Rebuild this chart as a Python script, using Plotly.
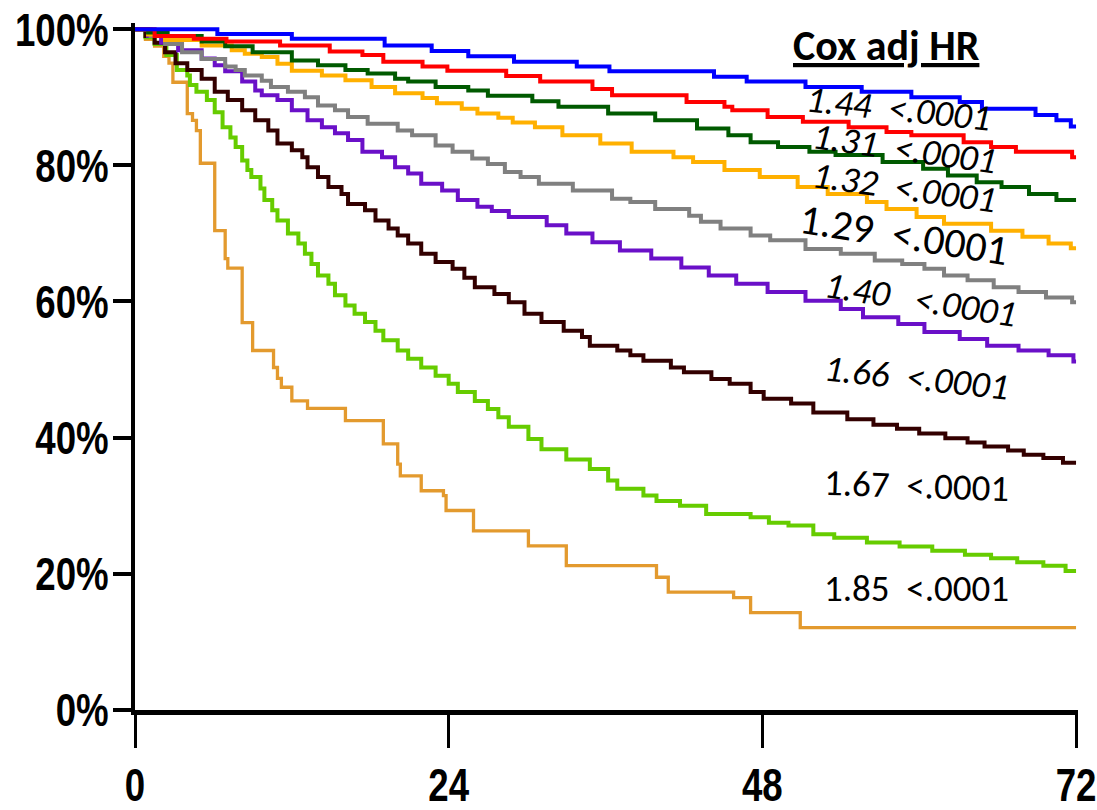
import plotly.graph_objects as go

# ---- data (months, survival %) ----
x_ticks = [0, 24, 48, 72]
x_tick_labels = ["0", "24", "48", "72"]
y_ticks = [0, 20, 40, 60, 80, 100]
y_tick_labels = ["0%", "20%", "40%", "60%", "80%", "100%"]

t_blue = [0, 6.3, 12.0, 19.1, 22.7, 25.5, 29.0, 33.8, 36.3, 44.3, 46.8, 51.3, 55.6, 59.4, 63.1, 64.8, 68.9, 70.5, 71.6, 72]
s_blue = [100, 99.3, 98.6, 97.6, 96.8, 96.0, 95.2, 94.5, 93.8, 93.0, 92.3, 91.5, 90.8, 90.0, 89.3, 88.3, 87.4, 86.6, 85.7, 85.7]

t_red = [0, 1.5, 4.5, 7.0, 11.1, 14.9, 17.4, 19.0, 22.0, 23.9, 28.4, 31.0, 35.0, 36.5, 42.2, 45.1, 45.7, 48.4, 51.1, 54.6, 57.5, 59.4, 63.4, 65.5, 67.4, 71.7, 72]
s_red = [100, 99.0, 98.6, 98.2, 97.6, 96.7, 96.2, 95.2, 94.5, 93.9, 93.1, 92.3, 91.2, 90.3, 89.3, 88.6, 88.1, 87.1, 86.4, 85.6, 84.9, 84.4, 83.4, 82.7, 82.0, 81.2, 81.2]

t_dkgreen = [0, 1.0, 2.5, 5.1, 6.9, 9.0, 12.0, 14.0, 16.1, 17.8, 19.9, 20.9, 23.0, 25.5, 27.0, 30.4, 32.4, 36.2, 39.8, 43.0, 45.4, 47.1, 49.2, 51.6, 53.6, 57.2, 60.3, 62.2, 64.4, 66.3, 68.4, 70.5, 72]
s_dkgreen = [100, 99.5, 99.0, 98.2, 97.5, 96.6, 95.4, 94.7, 94.0, 93.5, 92.7, 92.3, 91.5, 91.0, 90.2, 89.4, 88.6, 87.6, 86.6, 85.4, 84.4, 83.4, 82.7, 82.0, 81.5, 80.5, 79.5, 78.5, 77.5, 76.8, 75.8, 74.9, 74.9]

t_gold = [0, 1.0, 2.3, 5.1, 7.4, 8.4, 9.7, 10.9, 12.0, 14.3, 16.1, 18.1, 19.9, 22.0, 23.1, 25.0, 26.2, 27.8, 28.9, 30.6, 32.7, 35.6, 38.0, 41.2, 42.7, 45.1, 47.8, 50.7, 53.0, 56.0, 57.5, 59.8, 61.9, 65.5, 67.9, 69.9, 71.6, 72]
s_gold = [100, 99.2, 98.4, 97.6, 96.9, 96.4, 95.9, 94.9, 93.9, 93.2, 92.5, 91.5, 90.6, 89.9, 89.1, 88.3, 87.6, 87.0, 86.3, 85.6, 84.4, 83.2, 82.0, 81.2, 80.5, 79.3, 78.3, 76.8, 75.8, 74.6, 73.6, 72.4, 71.4, 70.4, 69.5, 68.5, 67.8, 67.8]

t_gray = [0, 1.2, 2.3, 3.6, 5.1, 6.9, 7.7, 8.4, 9.7, 10.4, 11.7, 13.0, 14.0, 15.3, 16.3, 17.8, 20.1, 21.2, 23.0, 24.3, 25.8, 27.0, 28.3, 29.5, 30.9, 33.5, 36.5, 37.9, 39.8, 42.4, 43.3, 44.8, 47.1, 48.6, 51.3, 54.0, 56.6, 58.7, 60.4, 61.9, 63.7, 65.7, 67.6, 69.7, 71.7, 72]
s_gray = [100, 99.0, 97.8, 96.6, 95.6, 94.5, 94.0, 93.2, 92.4, 91.5, 90.8, 90.0, 88.8, 88.1, 87.1, 86.1, 85.1, 84.4, 82.9, 82.0, 81.0, 80.2, 79.0, 78.3, 77.3, 76.3, 75.1, 74.6, 73.6, 72.6, 71.7, 70.7, 69.7, 69.0, 67.7, 67.0, 66.0, 65.5, 64.8, 63.8, 63.1, 62.1, 61.4, 60.6, 59.9, 59.9]

t_purple = [0, 1.0, 2.0, 3.3, 5.1, 6.1, 6.9, 8.2, 9.2, 9.7, 10.9, 12.0, 13.2, 14.3, 15.3, 16.3, 17.4, 18.9, 19.9, 20.9, 21.9, 23.5, 24.7, 26.2, 27.3, 28.6, 31.5, 33.0, 35.0, 37.1, 39.5, 41.8, 43.9, 46.0, 48.4, 51.3, 54.0, 55.7, 58.4, 60.4, 63.1, 65.2, 67.6, 69.9, 71.8, 72]
s_purple = [100, 99.0, 98.0, 96.9, 95.7, 94.7, 93.8, 92.3, 91.0, 90.3, 89.6, 88.1, 86.6, 85.6, 84.7, 83.7, 82.0, 81.2, 79.7, 78.8, 77.3, 76.3, 74.9, 73.9, 73.3, 72.4, 71.2, 70.0, 68.7, 67.5, 66.3, 65.0, 63.8, 62.6, 61.4, 60.1, 58.9, 57.7, 56.7, 55.5, 54.5, 53.5, 52.8, 52.1, 51.2, 51.2]

t_brown = [0, 0.8, 1.5, 2.3, 3.1, 4.0, 5.1, 6.1, 7.1, 8.2, 9.2, 10.2, 10.9, 12.0, 12.8, 13.2, 14.0, 14.8, 15.8, 16.3, 17.6, 18.4, 19.4, 20.1, 20.9, 21.9, 23.0, 24.3, 25.2, 26.0, 27.5, 28.6, 29.8, 31.1, 32.8, 34.2, 34.8, 36.9, 37.9, 38.9, 41.0, 42.0, 44.1, 45.5, 47.1, 48.1, 50.2, 51.9, 54.5, 56.5, 58.3, 60.0, 62.0, 63.7, 65.0, 66.8, 68.0, 69.5, 71.0, 72]
s_brown = [100, 99.0, 98.0, 96.6, 95.0, 94.0, 92.7, 90.8, 89.6, 88.1, 86.6, 85.1, 83.2, 82.2, 81.2, 79.7, 78.3, 76.8, 75.8, 74.3, 73.4, 71.9, 70.7, 69.7, 68.5, 67.0, 65.8, 64.8, 63.5, 62.1, 61.1, 59.9, 58.2, 57.0, 55.7, 54.8, 53.5, 52.8, 52.1, 51.3, 50.3, 49.6, 48.6, 47.9, 46.7, 45.7, 45.0, 43.7, 42.7, 41.9, 41.3, 40.6, 39.9, 39.3, 38.7, 38.1, 37.5, 37.0, 36.3, 36.3]

t_ltgreen = [0, 0.8, 1.5, 2.4, 3.2, 4.0, 4.2, 4.7, 5.5, 6.1, 6.7, 7.3, 7.7, 8.2, 8.6, 8.9, 9.6, 9.9, 10.5, 10.9, 11.7, 12.5, 13.0, 13.5, 14.0, 14.8, 15.3, 16.1, 16.8, 17.6, 18.4, 19.0, 20.1, 20.9, 21.9, 23.0, 24.0, 24.7, 26.0, 27.0, 27.8, 28.6, 30.1, 31.1, 33.0, 34.8, 36.2, 36.9, 38.9, 39.9, 41.7, 43.7, 47.1, 48.5, 50.0, 51.9, 53.5, 56.0, 58.5, 61.0, 63.5, 65.5, 67.5, 69.5, 71.2, 72]
s_ltgreen = [100, 98.8, 97.8, 96.2, 94.0, 93.2, 91.8, 90.8, 89.6, 87.8, 85.6, 84.1, 82.7, 80.7, 79.3, 78.3, 76.6, 74.9, 73.4, 71.9, 70.0, 68.5, 67.0, 65.5, 63.8, 62.6, 60.9, 59.4, 58.2, 57.0, 55.7, 54.3, 52.8, 51.6, 50.3, 49.1, 47.9, 46.7, 45.4, 44.2, 43.0, 41.6, 39.8, 38.3, 36.8, 35.4, 33.7, 32.5, 31.5, 30.7, 30.0, 28.8, 28.3, 27.5, 27.1, 25.8, 25.3, 24.6, 24.0, 23.4, 22.8, 22.3, 21.7, 21.2, 20.4, 20.4]

t_orange = [0, 0.8, 1.5, 2.2, 2.6, 2.9, 4.0, 4.4, 4.7, 5.0, 6.1, 6.9, 7.1, 8.2, 9.0, 10.6, 10.9, 11.2, 12.0, 13.2, 16.1, 19.0, 20.1, 20.3, 21.9, 23.6, 23.8, 25.9, 30.1, 33.0, 39.9, 40.8, 45.8, 47.1, 50.9, 72]
s_orange = [100, 98.5, 97.5, 96.0, 95.0, 92.2, 87.6, 86.6, 85.1, 80.3, 70.4, 66.3, 64.9, 56.9, 52.8, 50.3, 48.7, 47.4, 45.4, 44.3, 42.5, 39.1, 36.1, 34.4, 32.2, 31.5, 29.3, 26.3, 24.1, 21.2, 19.5, 17.3, 16.5, 14.3, 12.1, 12.1]

hr_values = ["1.44", "1.31", "1.32", "1.29", "1.40", "1.66", "1.67", "1.85"]
p_values = ["<.0001"] * 8
header_text = "Cox adj HR"

# ---- styling ----
series = [
    (t_orange, s_orange, "#e39a2e", 3.3),
    (t_ltgreen, s_ltgreen, "#66cc00", 4),
    (t_brown, s_brown, "#330000", 4),
    (t_purple, s_purple, "#6a10c8", 4),
    (t_gray, s_gray, "#808080", 4),
    (t_gold, s_gold, "#ffb000", 4),
    (t_dkgreen, s_dkgreen, "#005a00", 4),
    (t_red, s_red, "#ff0000", 4),
    (t_blue, s_blue, "#0000ff", 4),
]

fig = go.Figure()
for tx, sy, col, w in series:
    fig.add_trace(go.Scatter(x=tx, y=sy, mode="lines", line=dict(color=col, width=w, shape="hv"),
                             hoverinfo="skip", showlegend=False))

tick_font = dict(family="Liberation Sans, Arial, sans-serif", size=47, color="black", weight="bold")

fig.update_xaxes(range=[0, 72.15], tickvals=x_ticks, ticktext=x_tick_labels, showline=True,
                 linecolor="black", linewidth=5, ticks="outside", ticklen=33, tickwidth=3,
                 tickcolor="black", showgrid=False, zeroline=False, tickfont=tick_font,
                 ticklabelstandoff=-3, automargin=False, ticklabeloverflow="allow")
fig.update_yaxes(range=[0, 100.9], tickvals=y_ticks, ticktext=y_tick_labels, showline=True,
                 linecolor="black", linewidth=4, ticks="outside", ticklen=18, tickwidth=4,
                 tickcolor="black", showgrid=False, zeroline=False, tickfont=tick_font,
                 ticklabelstandoff=-5, automargin=False, ticklabeloverflow="allow")

# annotation placement (months, %) and rotation
ann_x = [58.4, 58.9, 58.9, 58.8, 60.1, 59.8, 59.8, 59.8]
ann_y = [88.3, 82.4, 76.8, 69.9, 60.3, 48.8, 32.9, 17.9]
ann_angle = [6, 8, 8, 9, 9, 6, 2, 0]
ann_italic = [True, True, True, False, True, True, False, False]
ann_size = [37, 37, 37, 42, 37, 37, 37, 37]
ann_gap = ["  ", "  ", "  ", "  ", "   ", "  ", "  ", "  "]

for i in range(len(hr_values)):
    txt = hr_values[i] + ann_gap[i] + p_values[i]
    if ann_italic[i]:
        txt = "<i>" + txt + "</i>"
    fig.add_annotation(x=ann_x[i], y=ann_y[i], xref="x", yref="y", text=txt, showarrow=False,
                       textangle=ann_angle[i],
                       font=dict(family="Carlito, Lato, sans-serif", size=ann_size[i], color="black"))

fig.add_annotation(x=57.5, y=97.6, xref="x", yref="y", text="<b><u>" + header_text + "</u></b>",
                   showarrow=False, font=dict(family="Carlito, Lato, sans-serif", size=42, color="black"))

fig.update_layout(width=1097, height=810, margin=dict(l=135, r=19, t=23, b=100, autoexpand=False),
                  plot_bgcolor="white", paper_bgcolor="white", showlegend=False)

# remove the page's default body margin and narrow the bold tick labels (Arial-Narrow look)
post_js = """
document.body.style.margin = '0';
var gd = document.getElementById('{plot_id}');
gd.querySelectorAll('g.xtick text, g.ytick text').forEach(function(t){
  var tr = t.getAttribute('transform') || '';
  var x = parseFloat(t.getAttribute('x')) || 0;
  t.setAttribute('transform', tr + ' translate(' + x + ',0) scale(0.78,1) translate(' + (-x) + ',0)');
});
"""

fig.write_html("out.html", post_script=post_js, config={"displayModeBar": False})
